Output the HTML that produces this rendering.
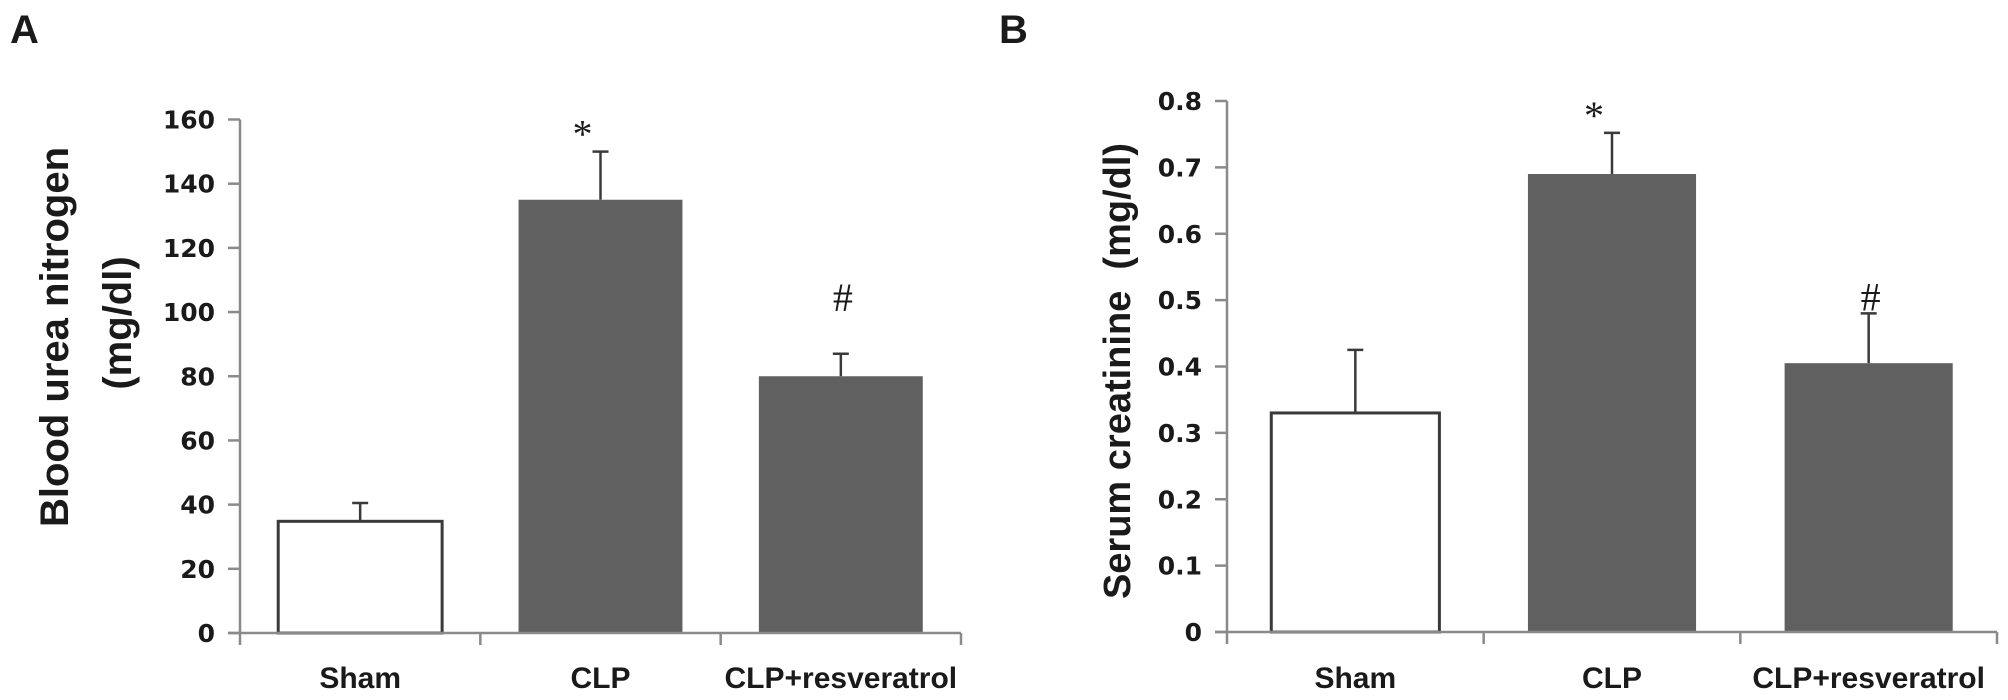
<!DOCTYPE html>
<html><head><meta charset="utf-8">
<style>
html,body{margin:0;padding:0;background:#fff;}
svg{display:block;}
.tick{font-family:"DejaVu Sans",sans-serif;font-weight:bold;font-size:25px;fill:#1a1a1a;}
.cat{font-family:"Liberation Sans",sans-serif;font-weight:bold;font-size:30px;fill:#1a1a1a;}
.ttl{font-family:"Liberation Sans",sans-serif;font-weight:bold;font-size:40px;fill:#1a1a1a;}
.pl{font-family:"Liberation Sans",sans-serif;font-weight:bold;font-size:40px;fill:#1a1a1a;}
.sig{font-family:"Liberation Serif",serif;font-size:40px;fill:#1a1a1a;}
</style></head>
<body>
<svg id="chart" width="2008" height="700" viewBox="0 0 2008 700" xmlns="http://www.w3.org/2000/svg">
<text class="pl" x="10" y="43">A</text>
<text class="pl" x="999" y="43">B</text>
<text class="ttl" transform="translate(68,337) rotate(-90)" text-anchor="middle">Blood urea nitrogen</text>
<text class="ttl" transform="translate(131,323) rotate(-90)" text-anchor="middle">(mg/dl)</text>
<text class="ttl" style="font-size:38px" transform="translate(1130,371) rotate(-90)" text-anchor="middle" xml:space="preserve">Serum creatinine  (mg/dl)</text>
</svg>
<script>
const categories = ["Sham", "CLP", "CLP+resveratrol"];
const bunValues = [34.8, 135, 80];
const bunErrors = [5.7, 15, 7];
const bunTicks = [0, 20, 40, 60, 80, 100, 120, 140, 160];
const bunMarks = ["", "*", "#"];
const creaValues = [0.33, 0.69, 0.405];
const creaErrors = [0.095, 0.062, 0.075];
const creaTicks = [0, 0.1, 0.2, 0.3, 0.4, 0.5, 0.6, 0.7, 0.8];
const creaTickLabels = ["0", "0.1", "0.2", "0.3", "0.4", "0.5", "0.6", "0.7", "0.8"];
const creaMarks = ["", "*", "#"];

const NS = "http://www.w3.org/2000/svg";
const svg = document.getElementById("chart");
function mk(tag, attrs, parent) {
  const e = document.createElementNS(NS, tag);
  for (const k in attrs) e.setAttribute(k, attrs[k]);
  (parent || svg).appendChild(e);
  return e;
}

function panel(cfg, values, errors, ticks, tickLabels, marks, id) {
  const g = mk("g", {});
  
  
  const y = v => cfg.y0 - (v - ticks[0]) / (ticks[ticks.length - 1] - ticks[0]) * (cfg.y0 - cfg.yTop);
  const catW = (cfg.xEnd - cfg.x0) / categories.length;
  const x = i => cfg.x0 + catW * (i + 0.5);
  const ya = mk("line", {x1: cfg.x0, y1: y(ticks[ticks.length-1]), x2: cfg.x0, y2: cfg.y0 + 12, stroke: "#8a8a8a", "stroke-width": 2.5}, g);
  
  
  ticks.forEach((t, i) => {
    const tl = mk("line", {x1: cfg.x0 - 12, y1: y(t), x2: cfg.x0, y2: y(t), stroke: "#8a8a8a", "stroke-width": 2.5}, g);
    
    
    const tx = mk("text", {x: cfg.x0 - 25, y: y(t) + 9, class: "tick", "text-anchor": "end"}, g);
    tx.textContent = tickLabels[i];
    
    
  });
  categories.forEach((c, i) => {
    const w = catW * cfg.barFrac;
    const top = y(values[i]);
    const errTop = y(values[i] + errors[i]);
    const el = mk("line", {x1: x(i), y1: top, x2: x(i), y2: errTop, stroke: "#3a3a3a", "stroke-width": 2.5}, g);
    
    
    const cap = mk("line", {x1: x(i) - 8, y1: errTop, x2: x(i) + 8, y2: errTop, stroke: "#3a3a3a", "stroke-width": 2.5}, g);
    
    
    const r = mk("rect", i === 0
      ? {x: x(i) - w/2, y: top, width: w, height: cfg.y0 - top, fill: "#fff", stroke: "#3a3a3a", "stroke-width": 3}
      : {x: x(i) - w/2, y: top, width: w, height: cfg.y0 - top, fill: "#606060"}, g);
    
    
    const ct = mk("text", {x: x(i), y: 688, class: "cat", "text-anchor": "middle"}, g);
    ct.textContent = c;
    
    
    const xt = mk("line", {x1: cfg.x0 + catW * (i + 1), y1: cfg.y0, x2: cfg.x0 + catW * (i + 1), y2: cfg.y0 + 12, stroke: "#8a8a8a", "stroke-width": 2.5}, g);
    
    
    if (marks[i]) {
      const st = mk("text", {x: x(i) - (marks[i] === "*" ? 18 : -2), y: errTop - 4, class: "sig", "text-anchor": "middle"}, g);
      if (marks[i] === "#") st.setAttribute("y", Math.min(errTop, top) - 43 + (id === "b" ? 40 : 0));
      st.textContent = marks[i];
      
      
    }
  });
  const xa = mk("line", {x1: cfg.x0 - 12, y1: cfg.y0, x2: cfg.xEnd, y2: cfg.y0, stroke: "#8a8a8a", "stroke-width": 2.5}, g);
  
  
}

panel({x0: 240, xEnd: 961, y0: 633, yTop: 119.5, barFrac: 0.682}, bunValues, bunErrors, bunTicks, bunTicks.map(String), bunMarks, "a");
panel({x0: 1227, xEnd: 1997, y0: 632, yTop: 101, barFrac: 0.655}, creaValues, creaErrors, creaTicks, creaTickLabels, creaMarks, "b");
</script>
</body></html>
